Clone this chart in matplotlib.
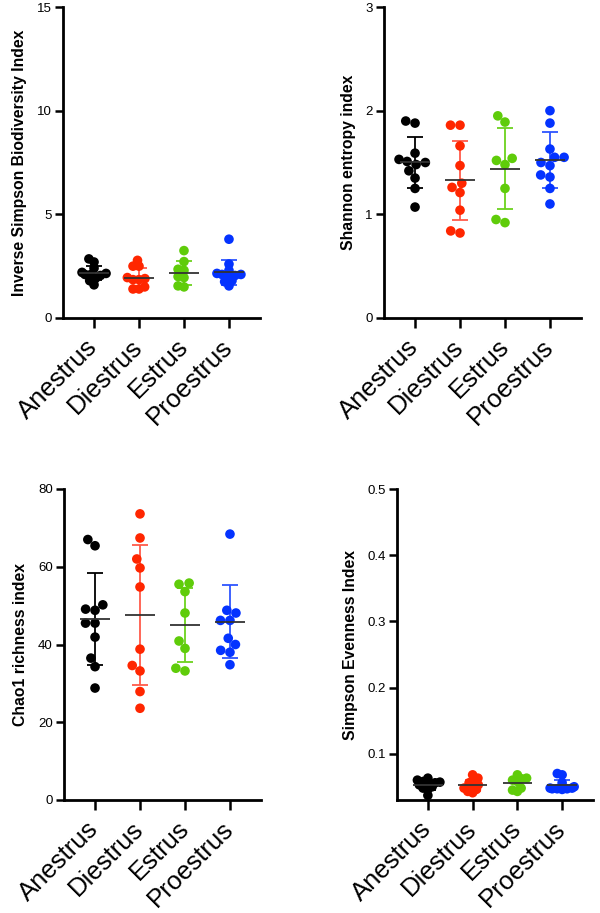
import numpy as np
import matplotlib
matplotlib.use("Agg")
import matplotlib.pyplot as plt

plt.rcParams['font.family'] = ['Liberation Sans', 'DejaVu Sans']

groups = ["Anestrus", "Diestrus", "Estrus", "Proestrus"]
point_colors = ["#000000", "#FF2600", "#5FCC0A", "#0433FF"]
bar_colors = ["#000000", "#FF5A4A", "#6CD21E", "#2E55FF"]
mean_color = "#333333"

# Inverse Simpson Biodiversity Index
invsimp = [
    [2.85, 2.7, 2.4, 2.2, 2.15, 2.1, 2.1, 2.05, 1.9, 1.8, 1.6],
    [2.78, 2.5, 2.5, 1.95, 1.9, 1.85, 1.85, 1.5, 1.4, 1.4],
    [3.25, 2.72, 2.35, 2.3, 2.0, 1.95, 1.55, 1.5],
    [3.8, 2.6, 2.3, 2.15, 2.1, 2.1, 2.05, 2.0, 1.8, 1.75, 1.55],
]
invsimp_mean = [2.17, 1.95, 2.17, 2.2]
invsimp_sd = [0.35, 0.47, 0.56, 0.6]

# Shannon entropy index
shannon = [
    [1.9, 1.88, 1.59, 1.53, 1.51, 1.5, 1.48, 1.42, 1.35, 1.25, 1.07],
    [1.86, 1.86, 1.66, 1.47, 1.3, 1.26, 1.21, 1.04, 0.84, 0.82],
    [1.95, 1.89, 1.54, 1.52, 1.48, 1.25, 0.95, 0.92],
    [2.0, 1.88, 1.63, 1.55, 1.55, 1.5, 1.47, 1.38, 1.36, 1.25, 1.1],
]
shannon_mean = [1.5, 1.33, 1.44, 1.52]
shannon_sd = [0.25, 0.38, 0.39, 0.27]

# Chao1 richness index
chao1 = [
    [67.0, 65.4, 50.2, 49.1, 48.8, 45.5, 45.5, 41.9, 36.5, 34.3, 28.8],
    [73.6, 67.4, 62.0, 59.7, 54.8, 38.8, 34.6, 33.2, 27.9, 23.6],
    [55.8, 55.5, 53.6, 48.1, 40.9, 39.0, 33.9, 33.2],
    [68.4, 48.8, 48.1, 46.2, 46.2, 41.6, 40.0, 38.5, 38.0, 34.8],
]
chao1_mean = [46.6, 47.6, 45.1, 45.9]
chao1_sd = [11.8, 18.0, 9.5, 9.5]

# Simpson Evenness Index
evenness = [
    [0.063, 0.06, 0.058, 0.057, 0.056, 0.055, 0.053, 0.05, 0.048, 0.046, 0.037],
    [0.068, 0.063, 0.06, 0.056, 0.053, 0.05, 0.048, 0.046, 0.043, 0.041],
    [0.068, 0.063, 0.062, 0.06, 0.058, 0.048, 0.045, 0.043],
    [0.07, 0.068, 0.056, 0.05, 0.048, 0.048, 0.047, 0.047, 0.047, 0.046],
]
evenness_mean = [0.052, 0.052, 0.056, 0.0525]
evenness_sd = [0.007, 0.008, 0.008, 0.008]

W, H = 600, 913
fig = plt.figure(figsize=(W / 100, H / 100), dpi=100)


def box(l, r, t, b):
    return [l / W, 1 - b / H, (r - l) / W, (b - t) / H]


def swarm(ax, xc, vals, diam, max_off):
    # beeswarm offsets computed in pixel space
    trans = ax.transData
    pys = [trans.transform((xc, v))[1] for v in vals]
    order = np.argsort(pys)
    placed = []
    offs = np.zeros(len(vals))
    for i in order:
        y = pys[i]
        cands = [0.0]
        for (px, py) in placed:
            dy = abs(py - y)
            if dy < diam:
                dx = np.sqrt(diam ** 2 - dy ** 2)
                cands += [px + dx, px - dx]
        cands = sorted(cands, key=lambda c: (abs(c), c))
        chosen = None
        for c in cands:
            ok = all((c - px) ** 2 + (y - py) ** 2 >= diam ** 2 - 1e-6 for (px, py) in placed)
            if ok:
                chosen = c
                break
        if chosen is None:
            chosen = 0.0
        chosen = float(np.clip(chosen, -max_off, max_off))
        offs[i] = chosen
        placed.append((chosen, y))
    x0p = trans.transform((0, 0))[0]
    x1p = trans.transform((1, 0))[0]
    return xc + offs / (x1p - x0p)


def panel(rect, data, means, sds, ylim, yticks, yticklabels, ylabel, diam, max_off):
    ax = fig.add_axes(box(*rect))
    ax.set_xlim(-0.69, 3.69)
    ax.set_ylim(*ylim)
    for s in ["top", "right"]:
        ax.spines[s].set_visible(False)
    for s in ["left", "bottom"]:
        ax.spines[s].set_linewidth(2.0)
    ax.set_yticks(yticks)
    ax.set_yticklabels(yticklabels, fontsize=9.5)
    ax.set_xticks(range(len(groups)))
    ax.set_xticklabels(groups, fontsize=18.5, rotation=45, ha="right",
                       va="center", rotation_mode="anchor")
    ax.tick_params(axis="both", direction="out", width=1.8, length=6)
    ax.tick_params(axis="x", length=7, pad=11)
    ax.tick_params(axis="y", pad=2)
    ax.set_ylabel(ylabel, fontsize=11.3, fontweight="bold", labelpad=7)
    for i, vals in enumerate(data):
        xs = swarm(ax, i, vals, diam, max_off)
        ax.errorbar(i, means[i], yerr=sds[i], color=bar_colors[i], capsize=5.5,
                    elinewidth=1.3, capthick=1.3, zorder=2)
        ax.scatter(xs, vals, s=48, color=point_colors[i], edgecolors="none",
                   zorder=3, clip_on=False)
        ax.hlines(means[i], i - 0.33, i + 0.33, color=mean_color, lw=1.3, zorder=4)
    return ax


panel((63, 260, 7, 318), invsimp, invsimp_mean, invsimp_sd, (0, 15),
      [0, 5, 10, 15], ["0", "5", "10", "15"], "Inverse Simpson Biodiversity Index", 6, 12)
panel((384, 581, 7, 318), shannon, shannon_mean, shannon_sd, (0, 3),
      [0, 1, 2, 3], ["0", "1", "2", "3"], "Shannon entropy index", 9.5, 16)
panel((64, 261, 489, 800), chao1, chao1_mean, chao1_sd, (0, 80),
      [0, 20, 40, 60, 80], ["0", "20", "40", "60", "80"], "Chao1 richness index", 9.5, 16)
panel((397, 593, 489, 800), evenness, evenness_mean, evenness_sd, (0.03, 0.5),
      [0.1, 0.2, 0.3, 0.4, 0.5], ["0.1", "0.2", "0.3", "0.4", "0.5"],
      "Simpson Evenness Index", 5, 12)

fig.savefig("out.png", dpi=100)
